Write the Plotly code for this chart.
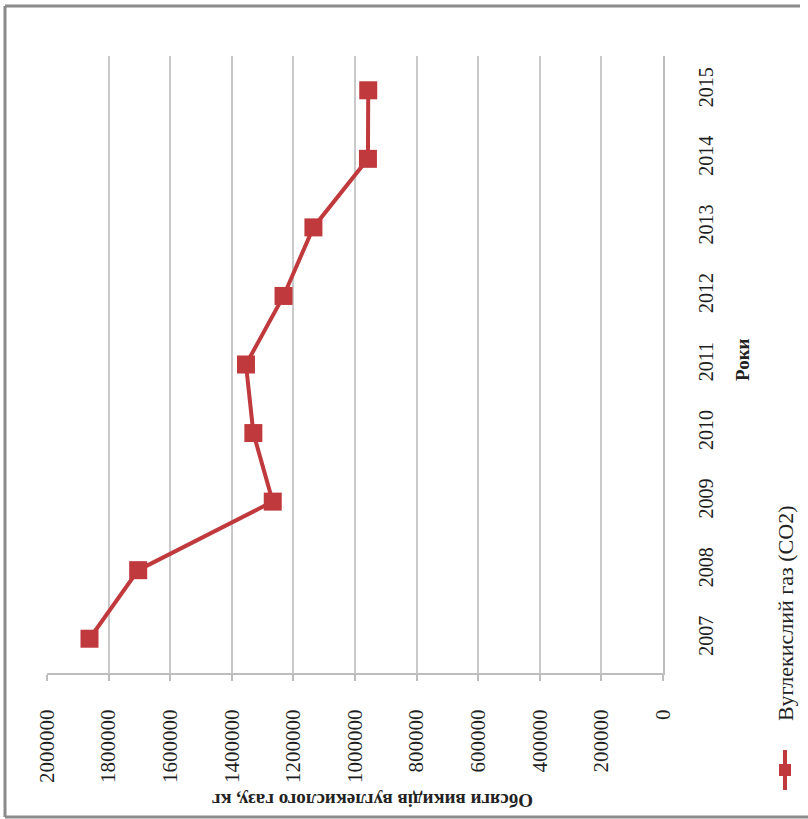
import plotly.graph_objects as go

# ---- data ----
years = ["2007", "2008", "2009", "2010", "2011", "2012", "2013", "2014", "2015"]
co2_kg = [1862000, 1704000, 1267000, 1330000, 1354000, 1232000, 1135000, 958000, 957000]
value_ticks = [0, 200000, 400000, 600000, 800000, 1000000, 1200000, 1400000, 1600000, 1800000, 2000000]
value_tick_labels = [str(v) for v in value_ticks]
series_name = "Вуглекислий газ (CO2)"
value_title = "Обсяги викидів вуглекислого газу, кг"
year_title = "Роки"

# ---- geometry (pixels) ----
W, H = 808, 819
L, R, T, B = 47, 663, 56, 673  # plot area edges
RED = "#c0393d"
FONT = "Liberation Serif"


def px(x):
    return (x - L) / (R - L)


def py(y):
    return (B - y) / (B - T)


fig = go.Figure()
fig.add_trace(go.Scatter(
    x=co2_kg, y=years, mode="lines+markers", name=series_name,
    line=dict(color=RED, width=4),
    marker=dict(symbol="square", size=18, color=RED),
    showlegend=False,
))

fig.update_layout(
    width=W, height=H,
    margin=dict(l=L, r=W - R, t=T, b=H - B),
    paper_bgcolor="white", plot_bgcolor="white",
    font=dict(family=FONT, color="#222222"),
    xaxis=dict(
        range=[2000000, 0], tickvals=value_ticks, ticktext=value_tick_labels,
        tickangle=-90, showgrid=True, gridcolor="#c9c9c9", gridwidth=2,
        zeroline=False, showline=True, linecolor="#bdbdbd", linewidth=2,
        ticks="outside", ticklen=6, tickcolor="#bdbdbd", tickwidth=2,
        tickfont=dict(family=FONT, size=21, color="#1e1e1e"),
        ticklabelstandoff=20,
    ),
    yaxis=dict(
        type="category", categoryorder="array", categoryarray=years,
        range=[-0.5, 8.5], side="right", tickangle=-90,
        showgrid=False, zeroline=False, showline=True,
        linecolor="#bdbdbd", linewidth=2, ticks="",
        tickfont=dict(family=FONT, size=20, color="#1e1e1e"),
        ticklabelstandoff=24,
    ),
)

# axis titles (rotated) and legend
fig.add_annotation(
    x=px(373), y=py(800), xref="paper", yref="paper", text=value_title,
    textangle=180, showarrow=False, xanchor="center", yanchor="middle",
    font=dict(family=FONT, size=19, color="#222222", weight="bold"),
)
fig.add_annotation(
    x=px(742), y=py(360), xref="paper", yref="paper", text=year_title,
    textangle=-90, showarrow=False, xanchor="center", yanchor="middle",
    font=dict(family=FONT, size=19, color="#222222", weight="bold"),
)
fig.add_annotation(
    x=px(785), y=py(614), xref="paper", yref="paper", text=series_name,
    textangle=-90, showarrow=False, xanchor="center", yanchor="middle",
    font=dict(family=FONT, size=22, color="#222222"),
)
# legend symbol
fig.add_shape(type="line", xref="paper", yref="paper",
              x0=px(785), x1=px(785), y0=py(750), y1=py(790),
              line=dict(color=RED, width=4))
fig.add_shape(type="rect", xref="paper", yref="paper",
              x0=px(779), x1=px(791), y0=py(764), y1=py(776),
              line=dict(width=0), fillcolor=RED)

# outer frame (left, top, bottom)
for x0, y0, x1, y1 in [(5, 6, 5, 817), (5, 6, 800, 6), (5, 817, 808, 817)]:
    fig.add_shape(type="line", xref="paper", yref="paper",
                  x0=px(x0), x1=px(x1), y0=py(y0), y1=py(y1),
                  line=dict(color="#8a8a8a", width=3))

fig.write_html("out.html")
